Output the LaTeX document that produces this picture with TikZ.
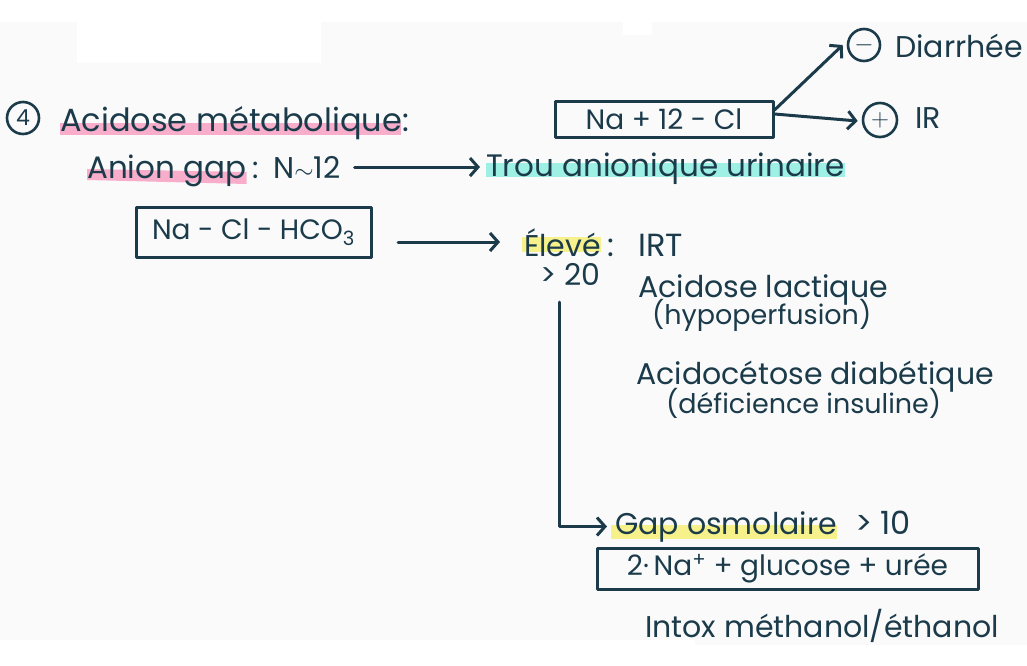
\documentclass[tikz,border=0pt]{standalone}
\usepackage{fontspec}
\setmainfont{Poppins}
\usetikzlibrary{arrows.meta,positioning,calc,backgrounds}
\definecolor{Ink}{HTML}{1B3B4B}
\definecolor{Paper}{HTML}{FAFAFA}
\definecolor{Pink}{HTML}{F8AECB}
\definecolor{Mint}{HTML}{9EF0E4}
\definecolor{Lemon}{HTML}{F6F18A}
\tikzset{
  note/.style={text=Ink,inner sep=0pt,anchor=base west,font=\fontsize{30}{34}\selectfont},
  subnote/.style={note,font=\fontsize{27}{31}\selectfont},
  hbox/.style={draw=Ink,line width=3pt,text=Ink,inner sep=0pt,font=\fontsize{28}{32}\selectfont},
  flow/.style={-{Straight Barb[length=8pt,width=18pt]},draw=Ink,line width=3pt},
  sign/.style={circle,draw=Ink,line width=2.6pt,text=Ink,inner sep=0pt,font=\fontsize{24}{24}\selectfont}
}
\begin{document}
\begin{tikzpicture}[x=1pt,y=-1pt,line cap=round,line join=round]
  \useasboundingbox (0,0) rectangle (1027,665);
  \begin{scope}[on background layer]
    \fill[white] (0,0) rectangle (1027,665);
    \fill[Paper] (0,22) rectangle (1027,640);
    \fill[Paper] (695,640) rectangle (1027,645);
    \fill[white] (77,22) rectangle (321,63);
    \fill[white] (623,22) rectangle (652,35);
  \end{scope}

  % title
  \node[sign,minimum size=32pt,font=\fontsize{22}{22}\selectfont] (num) at (23,118) {4};
  \node[note,font=\fontsize{32}{36}\selectfont] (title) at (60,131) {Acidose métabolique:};

  % anion gap
  \node[note,font=\fontsize{31}{35}\selectfont] (gap) at (87,178) {Anion gap};
  \node[note,right=6pt of gap.base east,anchor=base west] (gapval) {:\hspace{14pt}N$\sim$12};
  \node[note,font=\fontsize{31}{35}\selectfont] (trou) at (486,176) {Trou anionique urinaire};
  \draw[flow] ([xshift=14pt]gapval.east) -- ([xshift=-6pt]gapval.east -| trou.west);

  % urinary gap
  \node[hbox,minimum width=218pt,minimum height=36pt] (sum) at (664,119) {Na + 12 - Cl};
  \node[sign,minimum size=32pt] (minus) at (864,45) {$-$};
  \node[note] (diar) at (895,57) {Diarrhée};
  \node[sign,minimum size=34pt] (plus) at (880,120) {$+$};
  \node[note] (ir) at (915,128) {IR};
  \draw[flow] ([yshift=9pt]sum.east) -- ([xshift=-4pt]minus.west);
  \draw[flow] ([yshift=5pt]sum.east) -- ([xshift=-4pt,yshift=-1pt]plus.west);

  % plasma gap
  \node[hbox,minimum width=235pt,minimum height=50pt] (hco) at (253.5,232) {Na - Cl - HCO\textsubscript{3}};
  \node[note] (eleve) at (524,256) {Élevé};
  \node[note,right=6pt of eleve.base east,anchor=base west,font=\fontsize{32}{36}\selectfont] (irt) {:\hspace{24pt}IRT};
  \node[note] (gt) at (540,285) {> 20};
  \coordinate (hcoout) at (398,242);
  \coordinate (hcoin) at (500,242);
  \draw[flow] (hcoout) -- (hcoin);
  \node[note] (lact) at (638,297) {Acidose lactique};
  \node[subnote] (hypo) at (652,324) {(hypoperfusion)};
  \node[note] (ceto) at (636,384) {Acidocétose diabétique};
  \node[subnote] (insu) at (666,413) {(déficience insuline)};

  % osmolar gap
  \node[note] (osm) at (615,534) {Gap osmolaire};
  \node[note,right=18pt of osm.base east,anchor=base west,font=\fontsize{32}{36}\selectfont] (osmval) {>\hspace{8pt}10};
  \coordinate (drop) at (559,302);
  \draw[flow] (drop) |- ([xshift=-8pt]osm.west);
  \node[hbox,minimum width=381pt,minimum height=41pt] (calc) at (787.5,568.5) {2·\,Na\textsuperscript{+} + glucose + urée};
  \node[note] (intox) at (645,637) {Intox méthanol/éthanol};

  % highlights
  \begin{scope}[on background layer]
    \fill[Pink] ($(title.base west)+(0,-8)$) rectangle ($(title.base east)+(-8,4)$);
    \fill[Pink] ($(gap.base west)+(0,-9)$) -- ($(gap.base east)+(0,-6)$) -- ($(gap.base east)+(0,6)$) -- ($(gap.base west)+(0,2)$) -- cycle;
    \fill[Mint] ($(trou.base west)+(0,-13)$) rectangle ($(trou.base east)+(0,1)$);
    \fill[Lemon] ($(eleve.base west)+(-2,-19)$) rectangle ($(eleve.base east)+(0,-4)$);
    \fill[Lemon] ($(osm.base west)+(-4,-9)$) rectangle ($(osm.base east)+(0,5)$);
  \end{scope}
\end{tikzpicture}
\end{document}
